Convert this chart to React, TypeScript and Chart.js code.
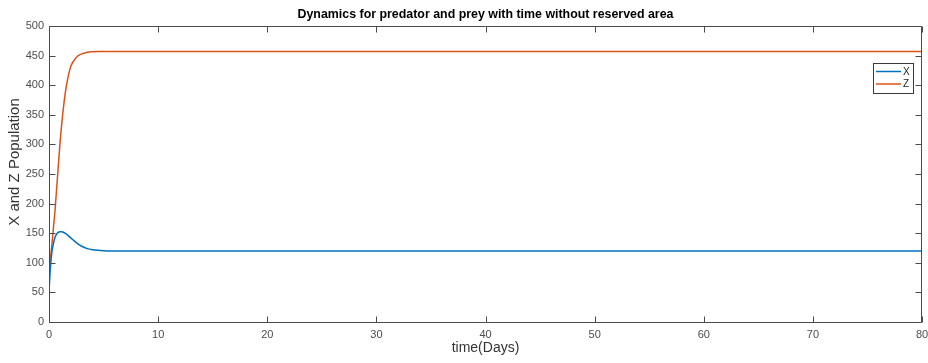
import React, { useEffect, useRef } from "react";
import { Chart, registerables } from "chart.js";

Chart.register(...registerables);

const titleText = "Dynamics for predator and prey with time without reserved area";
const xAxisLabel = "time(Days)";
const yAxisLabel = "X and Z Population";
const seriesNames = ["X", "Z"];

const timeDays = [0, 0.12, 0.25, 0.4, 0.55, 0.75, 1, 1.1, 1.25, 1.5, 1.75, 2, 2.5, 3, 3.5, 4, 4.5, 5, 6, 8, 10, 20, 40, 60, 80];
const xValues = [51, 90, 116, 132, 143, 150, 152.5, 152.6, 152, 149.5, 146, 142, 134, 128, 124, 122, 121, 120.5, 120, 120, 120, 120, 120, 120, 120];
const zValues = [80, 105, 128, 158, 188, 238, 300, 322, 350, 388, 414, 432, 447, 453, 455.5, 456.5, 457, 457, 457, 457, 457, 457, 457, 457, 457];

const xTickStep = 10;
const yTickStep = 50;
const xMax = 80;
const yMax = 500;

const colors = ["#0072BD", "#D95319"];
const FONT = "'Liberation Sans', Arial, sans-serif";

const boxPlugin = {
  id: "matlabBox",
  afterDraw(chart: any) {
    const { ctx, chartArea } = chart;
    const { left, right, top, bottom } = chartArea;
    const xs = chart.scales.x;
    const ys = chart.scales.y;
    ctx.save();
    ctx.strokeStyle = "#4a4a4a";
    ctx.lineWidth = 1;
    ctx.beginPath();
    const L = Math.round(left) + 0.5;
    const R = Math.round(right) - 0.5;
    const T = Math.round(top) + 0.5;
    const B = Math.round(bottom) + 0.5;
    ctx.rect(L, T, R - L, B - T);
    const tl = 6;
    xs.ticks.forEach((t: any) => {
      const px = Math.round(xs.getPixelForValue(t.value)) + 0.5;
      ctx.moveTo(px, B);
      ctx.lineTo(px, B - tl);
      ctx.moveTo(px, T);
      ctx.lineTo(px, T + tl);
    });
    ys.ticks.forEach((t: any) => {
      const py = Math.round(ys.getPixelForValue(t.value)) + 0.5;
      ctx.moveTo(L, py);
      ctx.lineTo(L + tl, py);
      ctx.moveTo(R, py);
      ctx.lineTo(R - tl, py);
    });
    ctx.stroke();

    // title centred over the axes
    ctx.fillStyle = "#000000";
    ctx.font = "bold 12.4px " + FONT;
    ctx.textAlign = "center";
    ctx.textBaseline = "middle";
    ctx.fillText(titleText, (L + R) / 2, 15);

    // y axis label
    ctx.save();
    ctx.translate(15, 162);
    ctx.rotate(-Math.PI / 2);
    ctx.fillStyle = "#333333";
    ctx.font = "15px " + FONT;
    ctx.fillText(yAxisLabel, 0, 0);
    ctx.restore();

    // legend box inside the axes (top right)
    const bx = Math.round(R - 49);
    const by = Math.round(T + 36);
    const bw = 40;
    const bh = 30;
    ctx.fillStyle = "#ffffff";
    ctx.fillRect(bx, by, bw, bh);
    ctx.strokeStyle = "#3a3a3a";
    ctx.lineWidth = 1;
    ctx.strokeRect(bx + 0.5, by + 0.5, bw, bh);
    ctx.font = "10px " + FONT;
    ctx.textBaseline = "middle";
    ctx.textAlign = "left";
    seriesNames.forEach((name, i) => {
      const ly = by + 8.5 + i * 12.5;
      ctx.strokeStyle = colors[i];
      ctx.lineWidth = 1.5;
      ctx.beginPath();
      ctx.moveTo(bx + 3, ly);
      ctx.lineTo(bx + 28, ly);
      ctx.stroke();
      ctx.fillStyle = "#262626";
      ctx.fillText(name, bx + 30, ly + 0.5);
    });
    ctx.restore();
  },
};

export default function App() {
  const ref = useRef<HTMLCanvasElement>(null);
  useEffect(() => {
    const canvas = ref.current!;
    const chart = new Chart(canvas, {
      type: "line",
      data: {
        datasets: [
          {
            label: seriesNames[0],
            data: timeDays.map((t, i) => ({ x: t, y: xValues[i] })),
            borderColor: colors[0],
            backgroundColor: colors[0],
            borderWidth: 1.5,
            pointRadius: 0,
            cubicInterpolationMode: "monotone",
          },
          {
            label: seriesNames[1],
            data: timeDays.map((t, i) => ({ x: t, y: zValues[i] })),
            borderColor: colors[1],
            backgroundColor: colors[1],
            borderWidth: 1.5,
            pointRadius: 0,
            cubicInterpolationMode: "monotone",
          },
        ],
      },
      options: {
        responsive: false,
        animation: false,
        layout: { padding: { left: 0, right: 6, top: 26, bottom: 0 } },
        plugins: {
          legend: { display: false },
          tooltip: { enabled: false },
          title: { display: false },
        },
        scales: {
          x: {
            type: "linear",
            min: 0,
            max: xMax,
            grid: { display: false, drawTicks: false },
            border: { display: false },
            ticks: {
              stepSize: xTickStep,
              color: "#4d4d4d",
              font: { family: FONT, size: 11 },
              padding: 6,
              maxRotation: 0,
            },
            title: {
              display: true,
              text: xAxisLabel,
              color: "#333333",
              font: { family: FONT, size: 14 },
              padding: { top: 0, bottom: 6.5 },
            },
            afterFit: (s: any) => {
              s.height = 41;
              s.paddingLeft = 0;
              s.paddingRight = 0;
            },
          },
          y: {
            min: 0,
            max: yMax,
            grid: { display: false, drawTicks: false },
            border: { display: false },
            ticks: {
              stepSize: yTickStep,
              color: "#4d4d4d",
              font: { family: FONT, size: 11 },
              padding: 5,
            },
            title: { display: false },
            afterFit: (s: any) => {
              s.width = 49;
              s.paddingTop = 0;
              s.paddingBottom = 0;
            },
          },
        },
      },
      plugins: [boxPlugin],
    } as any);
    return () => chart.destroy();
  }, []);
  return (
    <div style={{ position: "fixed", left: 0, top: 0, width: 928, height: 363, background: "#ffffff" }}>
      <canvas ref={ref} width={928} height={363} />
    </div>
  );
}
